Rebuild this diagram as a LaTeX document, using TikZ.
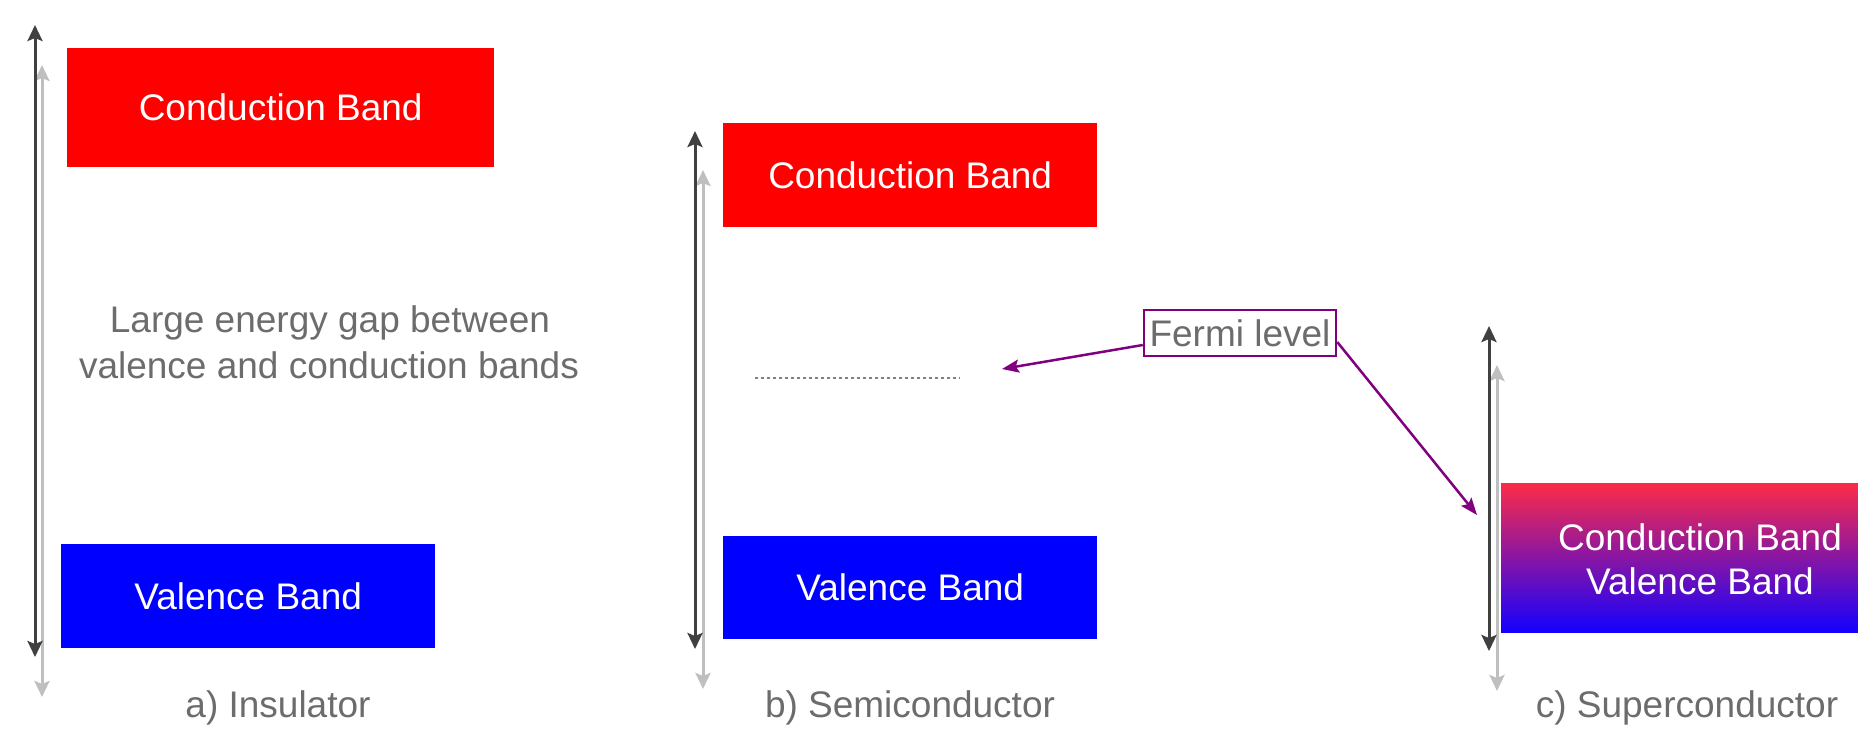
\documentclass[tikz,border=0pt]{standalone}
\usepackage{fontspec}
\setmainfont{Liberation Sans}
\usetikzlibrary{arrows.meta}
\definecolor{txtgray}{RGB}{108,108,108}
\definecolor{axdark}{RGB}{64,64,64}
\definecolor{axlight}{RGB}{191,191,191}
\definecolor{fermipurple}{RGB}{128,0,128}
\definecolor{cbred}{RGB}{255,0,0}
\definecolor{vbblue}{RGB}{0,0,255}
\definecolor{gtop}{RGB}{252,44,72}
\definecolor{gmid}{RGB}{200,34,190}
\definecolor{gbot}{RGB}{20,0,255}
\begin{document}
\begin{tikzpicture}[x=1pt,y=-1pt,
  bigfont/.style={font=\fontsize{37}{44}\selectfont},
  band/.style={bigfont,text=white,inner sep=0pt,anchor=north west},
  lbl/.style={bigfont,text=txtgray,inner sep=0pt,anchor=base},
  axisdark/.style={draw=axdark,line width=3pt,{Stealth[length=16pt,width=15pt,inset=3pt]}-{Stealth[length=16pt,width=15pt,inset=3pt]}},
  axislight/.style={draw=axlight,line width=3pt,{Stealth[length=16pt,width=15pt,inset=3pt]}-{Stealth[length=16pt,width=15pt,inset=3pt]}},
  fermiarrow/.style={draw=fermipurple,line width=2.5pt,-{Stealth[length=17pt,width=13pt,inset=3pt]}}
]
\useasboundingbox (0,0) rectangle (1858,732);

% ---------- a) Insulator ----------
\coordinate (a1t) at (35,25);  \coordinate (a1b) at (35,657);
\coordinate (a2t) at (42,65);  \coordinate (a2b) at (42,697);
\draw[axislight] (a2b) -- (a2t);
\draw[axisdark] (a1b) -- (a1t);
\node[band,fill=cbred,minimum width=427pt,minimum height=119pt] (icb) at (67,48) {\raisebox{-2pt}{Conduction Band}};
\node[band,fill=vbblue,minimum width=374pt,minimum height=104pt] (ivb) at (61,544) {Valence Band};
\node[lbl] (gap1) at (330,332) {Large energy gap between};
\node[lbl] (gap2) at (329,378) {valence and conduction bands};
\node[lbl] (capa) at (278,717) {a) Insulator};

% ---------- b) Semiconductor ----------
\coordinate (b1t) at (695,131); \coordinate (b1b) at (695,649);
\coordinate (b2t) at (703,170); \coordinate (b2b) at (703,689);
\draw[axislight] (b2b) -- (b2t);
\draw[axisdark] (b1b) -- (b1t);
\node[band,fill=cbred,minimum width=374pt,minimum height=104pt] (scb) at (723,123) {Conduction Band};
\node[band,fill=vbblue,minimum width=374pt,minimum height=103pt] (svb) at (723,536) {\raisebox{-2pt}{Valence Band}};
\coordinate (dl1) at (755,378); \coordinate (dl2) at (960,378);
\draw[draw=gray,line width=2.5pt,dash pattern=on 3pt off 3pt] (dl1) -- (dl2);
\node[lbl] (capb) at (910,717) {b) Semiconductor};

% ---------- Fermi level ----------
\node[bigfont,text=txtgray,draw=fermipurple,line width=2.5pt,inner sep=0pt,minimum width=192pt,minimum height=46pt] (fermi) at (1240,333) {Fermi level};
\coordinate (fl1) at (1002,369);
\coordinate (fl2) at (1477,515);
\draw[fermiarrow] ([yshift=-12pt]fermi.west) -- (fl1);
\draw[fermiarrow] ([yshift=-9pt]fermi.east) -- (fl2);

% ---------- c) Superconductor ----------
\coordinate (c1t) at (1489,326); \coordinate (c1b) at (1489,651);
\coordinate (c2t) at (1497,365); \coordinate (c2b) at (1497,691);
\draw[axislight] (c2b) -- (c2t);
\draw[axisdark] (c1b) -- (c1t);
\node[inner sep=0pt,anchor=north west,minimum width=380pt,minimum height=149pt,
      top color=gtop,middle color=gmid,bottom color=gbot,draw=none] (sup) at (1501,483) {};
\node[lbl,text=white] (scbt) at (1700,550) {Conduction Band};
\node[lbl,text=white] (svbt) at (1700,594) {Valence Band};
\node[lbl] (capc) at (1687,717) {c) Superconductor};
\end{tikzpicture}
\end{document}
